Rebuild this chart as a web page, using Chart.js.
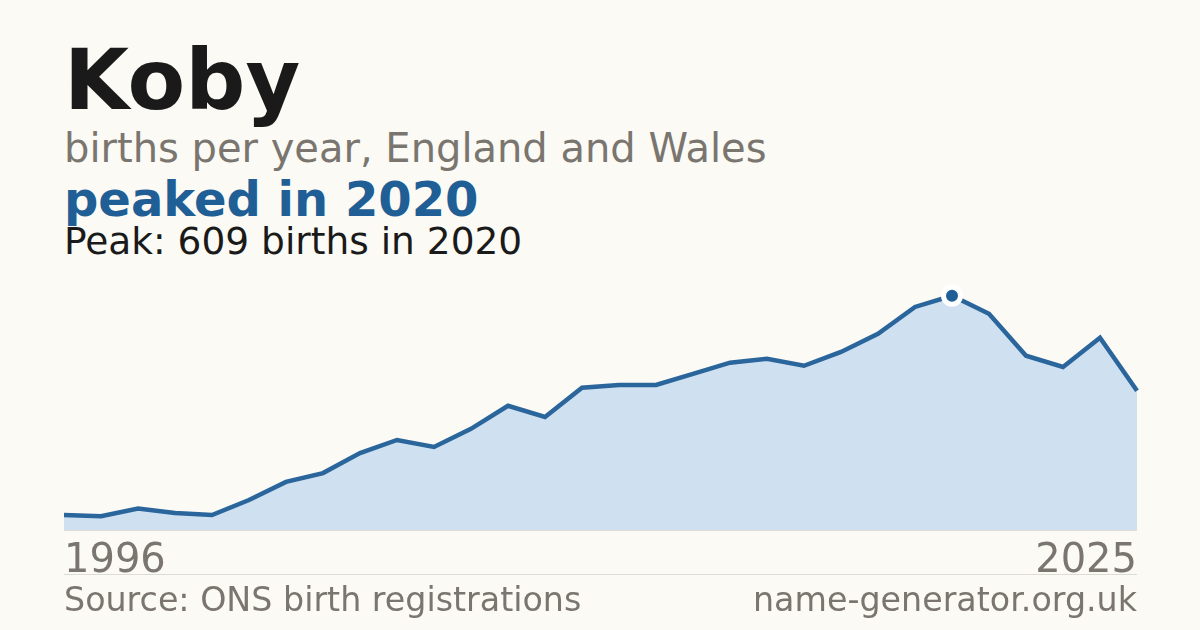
<!DOCTYPE html>
<html>
<head>
<meta charset="utf-8">
<script src="https://cdn.jsdelivr.net/npm/chart.js@4/dist/chart.umd.min.js"></script>
<style>
  html, body { margin: 0; padding: 0; }
  body {
    width: 1200px; height: 630px; overflow: hidden;
    background: #fbfaf5;
    font-family: "DejaVu Sans", sans-serif;
    position: relative;
  }
  .txt { position: absolute; left: 64px; white-space: nowrap; line-height: 1; }
  #title { top: 38px; font-size: 84px; font-weight: bold; color: #1a1a1a; }
  #subtitle { top: 128px; font-size: 40px; color: #7a766f; }
  #headline { top: 175px; font-size: 48px; font-weight: bold; color: #1f5f96; }
  #peak { top: 223px; font-size: 37.5px; color: #1a1a1a; }
  #chartBox { position: absolute; left: 54px; top: 270px; width: 1093px; height: 270px; }
  .tick { position: absolute; top: 538px; font-size: 40px; color: #7a766f; line-height: 1; }
  #rule { position: absolute; left: 64px; width: 1073px; top: 574px; height: 1px; background: #dddbd5; }
  .foot { position: absolute; top: 583px; font-size: 33.3px; color: #7a766f; line-height: 1; white-space: nowrap; }
</style>
</head>
<body>
<div id="title" class="txt">Koby</div>
<div id="subtitle" class="txt">births per year, England and Wales</div>
<div id="headline" class="txt">peaked in 2020</div>
<div id="peak" class="txt">Peak: 609 births in 2020</div>
<div id="chartBox"><canvas id="chart"></canvas></div>
<div id="tickLeft" class="tick" style="left:64px"></div>
<div id="tickRight" class="tick" style="right:63px"></div>
<div id="rule"></div>
<div class="foot" style="left:64px">Source: ONS birth registrations</div>
<div class="foot" style="right:63px">name-generator.org.uk</div>

<script>
// data
const years = [1996, 1997, 1998, 1999, 2000, 2001, 2002, 2003, 2004, 2005,
               2006, 2007, 2008, 2009, 2010, 2011, 2012, 2013, 2014, 2015,
               2016, 2017, 2018, 2019, 2020, 2021, 2022, 2023, 2024, 2025];
const births = [39, 36, 56, 44, 39, 78, 125, 148, 200, 234,
                216, 263, 323, 294, 370, 377, 377, 406, 435, 445,
                427, 463, 510, 580, 609, 562, 453, 424, 500, 362];
const tickLabels = ["1996", "2025"];

const peakIndex = births.indexOf(Math.max(...births));

document.getElementById("tickLeft").textContent = tickLabels[0];
document.getElementById("tickRight").textContent = tickLabels[1];

// thin grey baseline under the area, at value 0
const baseline = {
    id: "baseline",
    beforeDatasetsDraw(chart) {
        const { ctx, chartArea, scales } = chart;
        const y = scales.y.getPixelForValue(0);
        ctx.save();
        ctx.strokeStyle = "#dddbd5";
        ctx.lineWidth = 1;
        ctx.beginPath();
        ctx.moveTo(chartArea.left, y + 0.5);
        ctx.lineTo(chartArea.right, y + 0.5);
        ctx.stroke();
        ctx.restore();
    }
};

new Chart(document.getElementById("chart"), {
    type: "line",
    data: {
        labels: years,
        datasets: [{
            data: births,
            fill: "origin",
            backgroundColor: "#cfe0f0",
            borderColor: "#2a659c",
            borderWidth: 4.5,
            tension: 0,
            pointRadius: births.map((v, i) => i === peakIndex ? 8.5 : 0),
            pointHoverRadius: 0,
            pointBackgroundColor: "#1f5f96",
            pointBorderColor: "#ffffff",
            pointBorderWidth: 5,
            clip: false,
        }],
    },
    options: {
        responsive: true,
        maintainAspectRatio: false,
        animation: false,
        events: [],
        layout: { padding: { left: 10, right: 10, top: 10, bottom: 10 } },
        plugins: {
            legend: { display: false },
            tooltip: { enabled: false },
        },
        scales: {
            x: { display: false, offset: false },
            y: { display: false, min: 0, max: 650 },
        },
    },
    plugins: [baseline],
});
</script>
</body>
</html>
